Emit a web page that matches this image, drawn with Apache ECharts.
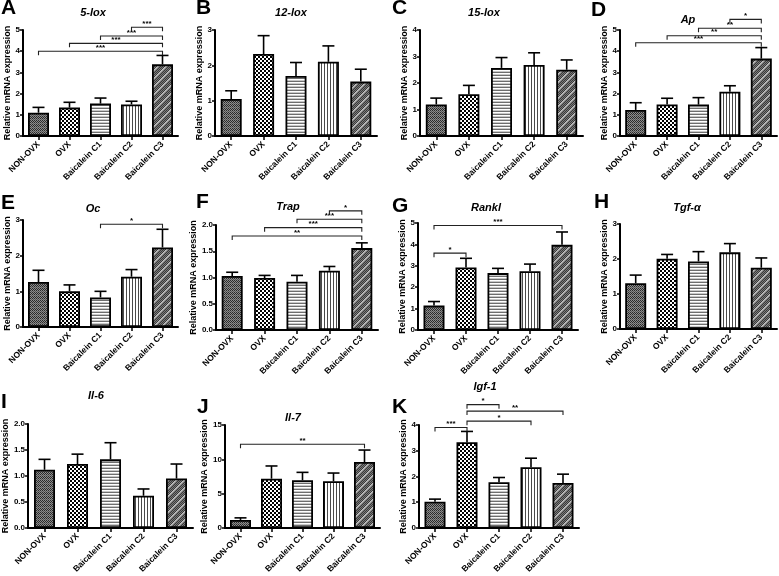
<!DOCTYPE html>
<html><head><meta charset="utf-8">
<script src="https://cdn.jsdelivr.net/npm/echarts@6/dist/echarts.min.js"></script>
<style>html,body{margin:0;padding:0;background:#fff}#c{width:779px;height:576px}</style>
</head><body><div id="c"></div>
<script>
// ---------- DATA ----------
const categories = ['NON-OVX', 'OVX', 'Baicalein C1', 'Baicalein C2', 'Baicalein C3'];
const panelLetters = ['A','B','C','D','E','F','G','H','I','J','K'];
const panelTitles = ['5-lox','12-lox','15-lox','Ap','Oc','Trap','Rankl','Tgf-\u03b1','Il-6','Il-7','Igf-1'];
const yAxisName = 'Relative mRNA expression';
const yMaxes = [5, 3, 4, 5, 3, 2, 5, 3, 2, 15, 4];
const yIntervals = [1, 1, 1, 1, 1, 0.5, 1, 1, 0.5, 5, 1];

const mean5lox = [1.10, 1.34, 1.53, 1.49, 3.38];
const sem5lox  = [0.25, 0.25, 0.26, 0.15, 0.42];
const mean12lox = [1.05, 2.32, 1.70, 2.10, 1.54];
const sem12lox  = [0.23, 0.52, 0.38, 0.45, 0.35];
const mean15lox = [1.19, 1.58, 2.57, 2.68, 2.50];
const sem15lox  = [0.24, 0.33, 0.39, 0.46, 0.37];
const meanAp = [1.23, 1.49, 1.48, 2.09, 3.65];
const semAp  = [0.34, 0.29, 0.33, 0.28, 0.52];
const meanOc = [1.26, 1.00, 0.83, 1.41, 2.23];
const semOc  = [0.33, 0.18, 0.17, 0.20, 0.51];
const meanTrap = [1.03, 0.99, 0.92, 1.13, 1.56];
const semTrap  = [0.07, 0.05, 0.12, 0.08, 0.10];
const meanRankl = [1.14, 2.92, 2.66, 2.75, 3.98];
const semRankl  = [0.19, 0.43, 0.22, 0.33, 0.60];
const meanTgfa = [1.31, 2.01, 1.93, 2.19, 1.75];
const semTgfa  = [0.23, 0.12, 0.28, 0.25, 0.28];
const meanIl6 = [1.12, 1.23, 1.32, 0.62, 0.95];
const semIl6  = [0.20, 0.19, 0.32, 0.13, 0.28];
const meanIl7 = [1.17, 7.18, 6.95, 6.80, 9.60];
const semIl7  = [0.30, 1.85, 1.15, 1.20, 1.75];
const meanIgf1 = [1.02, 3.33, 1.78, 2.36, 1.75];
const semIgf1  = [0.10, 0.42, 0.18, 0.35, 0.34];

// significance brackets: [fromCategory, toCategory, yValue, label]
const brackets5lox = [[0,4,4.00,'***'],[1,4,4.37,'***'],[2,4,4.72,'***'],[3,4,5.13,'***']];
const bracketsAp   = [[0,4,4.40,'***'],[1,4,4.73,'**'],[2,4,5.08,'**'],[3,4,5.50,'*']];
const bracketsOc   = [[2,4,2.88,'*']];
const bracketsTrap = [[0,4,1.79,'**'],[1,4,1.95,'***'],[2,4,2.11,'***'],[3,4,2.27,'*']];
const bracketsRankl= [[0,1,3.59,'*'],[0,4,4.88,'***']];
const bracketsIl7  = [[0,4,12.2,'**']];
const bracketsIgf1 = [[0,1,3.90,'***'],[1,3,4.15,'*'],[1,4,4.54,'**'],[1,2,4.79,'*']];

const panelMeans = [mean5lox, mean12lox, mean15lox, meanAp, meanOc, meanTrap, meanRankl, meanTgfa, meanIl6, meanIl7, meanIgf1];
const panelSems  = [sem5lox, sem12lox, sem15lox, semAp, semOc, semTrap, semRankl, semTgfa, semIl6, semIl7, semIgf1];
const panelBrackets = [brackets5lox, [], [], bracketsAp, bracketsOc, bracketsTrap, bracketsRankl, [], [], bracketsIl7, bracketsIgf1];

// ---------- LAYOUT ----------
const grids = [
  {left:23, top:30, width:155, height:106},
  {left:215, top:30, width:162, height:106},
  {left:420, top:30, width:163, height:106},
  {left:620, top:30, width:157, height:106},
  {left:23, top:220, width:155, height:107},
  {left:216, top:225, width:162, height:105},
  {left:418, top:223, width:160, height:107},
  {left:620, top:224, width:157, height:105},
  {left:28, top:424, width:165, height:108},
  {left:225, top:425, width:155, height:107},
  {left:419, top:425, width:160, height:107}
];
const letterPos = [[1,-2],[196,-2],[392,-2],[591,0],[1,193],[196,192],[392,196],[594,192],[1,392],[197,397],[392,397]];
const titlePos = [[93,7],[291,7],[484,7],[688,14],[93,203],[288,201],[486,202],[687,202],[96,390],[293,412],[485,381]];

const FONT = '"Liberation Sans", Arial, Helvetica, sans-serif';

// ---------- PATTERNS ----------
function tile(w, h, draw) {
  const c = document.createElement('canvas');
  c.width = w; c.height = h;
  const g = c.getContext('2d');
  draw(g);
  return {image: c, repeat: 'repeat'};
}
function px(g, col, x, y, w, h) { g.fillStyle = col; g.fillRect(x, y, w || 1, h || 1); }
const patterns = [
  tile(4, 4, g => { px(g,'#8c8c8c',0,0,4,4); px(g,'#2a2a2a',0,0); px(g,'#2a2a2a',2,0); px(g,'#2a2a2a',1,1); px(g,'#2a2a2a',3,1); px(g,'#2a2a2a',0,2); px(g,'#2a2a2a',2,2); px(g,'#555',1,3); px(g,'#555',3,3); }),
  tile(4, 4, g => { px(g,'#ffffff',0,0,4,4); px(g,'#000',2,0,2,2); px(g,'#000',0,2,2,2); }),
  tile(1, 3, g => { px(g,'#ffffff',0,0,1,3); px(g,'#6e6e6e',0,0); px(g,'#c8c8c8',0,2); }),
  tile(3, 1, g => { px(g,'#ffffff',0,0,3,1); px(g,'#4a4a4a',0,0); }),
  tile(8, 8, g => {
    px(g,'#7a7a7a',0,0,8,8);
    for (let y = 0; y < 8; y++) for (let x = 0; x < 8; x++) if ((x + y) % 2 === 0) px(g,'#3a3a3a',x,y);
    for (let i = 0; i < 8; i++) { px(g,'#c4c4c4',i,7-i); px(g,'#a8a8a8',(i+1)%8,7-i); }
  })
];

// ---------- BUILD ----------
const option = {
  animation: false,
  backgroundColor: '#fff',
  title: [],
  grid: [], xAxis: [], yAxis: [], series: []
};

for (let p = 0; p < 11; p++) {
  option.grid.push(Object.assign({containLabel:false}, grids[p]));
  option.title.push({text: panelLetters[p], left: letterPos[p][0], top: letterPos[p][1],
    textStyle:{fontFamily:FONT, fontWeight:'bold', fontSize:21, color:'#000'}, padding:0});
  option.title.push({text: panelTitles[p], left: titlePos[p][0], top: titlePos[p][1], textAlign:'center',
    textStyle:{fontFamily:FONT, fontWeight:'bold', fontStyle:'italic', fontSize:11, color:'#000'}, padding:0});
  option.xAxis.push({
    type:'category', gridIndex:p, data:categories,
    axisLine:{show:true, lineStyle:{color:'#000', width:2}},
    axisTick:{show:true, alignWithLabel:true, length:4, lineStyle:{color:'#000', width:1.5}},
    axisLabel:{rotate:45, interval:0, margin:7, color:'#000', fontFamily:FONT, fontWeight:'bold', fontSize:8.5},
    splitLine:{show:false}
  });
  const dec = yIntervals[p] < 1 ? 1 : 0;
  option.yAxis.push({
    type:'value', gridIndex:p, min:0, max:yMaxes[p], interval:yIntervals[p],
    name: yAxisName, nameLocation:'middle', nameGap: p === 9 ? 14 : (dec ? 14 : 10),
    nameTextStyle:{fontFamily:FONT, fontWeight:'bold', fontSize:9, color:'#000'},
    axisLine:{show:true, lineStyle:{color:'#000', width:2}},
    axisTick:{show:true, length:3, lineStyle:{color:'#000', width:1.5}},
    axisLabel:{margin:3, color:'#000', fontFamily:FONT, fontWeight:'bold', fontSize:8,
      formatter: v => v.toFixed(dec)},
    splitLine:{show:false}
  });
  const means = panelMeans[p], sems = panelSems[p];
  option.series.push({
    type:'bar', xAxisIndex:p, yAxisIndex:p, barWidth:21,
    data: means.map((v, i) => ({value:v, itemStyle:{color:patterns[i], borderColor:'#000', borderWidth:1.8}})),
    z: 2
  });
  option.series.push({
    type:'custom', xAxisIndex:p, yAxisIndex:p, z: 3, clip:false,
    data: means.map((v, i) => [i, v, v + sems[i]]),
    renderItem: (params, api) => {
      const a = api.coord([api.value(0), api.value(1)]);
      const b = api.coord([api.value(0), api.value(2)]);
      const st = {stroke:'#000', lineWidth:1.6};
      return {type:'group', children:[
        {type:'line', shape:{x1:a[0], y1:a[1], x2:b[0], y2:b[1]}, style:st},
        {type:'line', shape:{x1:b[0]-6, y1:b[1], x2:b[0]+6, y2:b[1]}, style:st}
      ]};
    }
  });
  const br = panelBrackets[p];
  if (br.length) {
    option.series.push({
      type:'custom', xAxisIndex:p, yAxisIndex:p, z: 4, clip:false,
      data: br.map(b => [b[0], b[1], b[2]]),
      renderItem: (params, api) => {
        const lab = br[params.dataIndex][3];
        const a = api.coord([api.value(0), api.value(2)]);
        const b = api.coord([api.value(1), api.value(2)]);
        const st = {stroke:'#222', lineWidth:1.1, fill:null};
        return {type:'group', children:[
          {type:'polyline', shape:{points:[[a[0], a[1]+4],[a[0], a[1]],[b[0], b[1]],[b[0], b[1]+4]]}, style:st},
          {type:'text', style:{text:lab, x:(a[0]+b[0])/2, y:a[1]+0.5, align:'center', verticalAlign:'bottom',
            fontFamily:FONT, fontWeight:'bold', fontSize:8, fill:'#000'}}
        ]};
      }
    });
  }
}

const chart = echarts.init(document.getElementById('c'), null, {renderer:'canvas'});
chart.setOption(option);
</script>
</body></html>
